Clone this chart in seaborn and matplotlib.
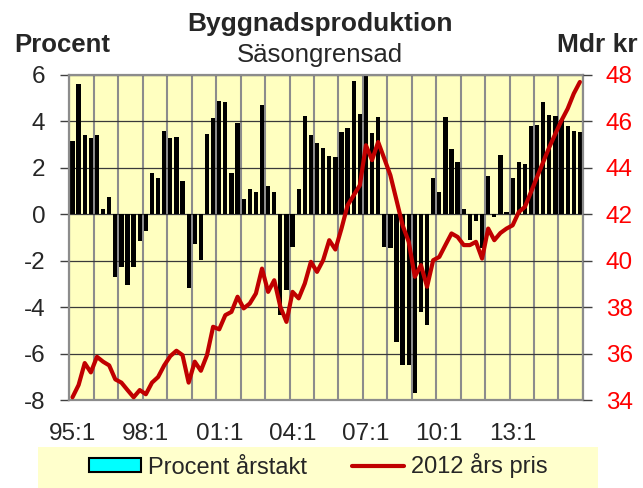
import numpy as np
import pandas as pd
import matplotlib
matplotlib.use("Agg")
import matplotlib.pyplot as plt
import seaborn as sns
from matplotlib.patches import Patch, Rectangle
from matplotlib.lines import Line2D
from matplotlib.ticker import FixedLocator

# ---------------- data ----------------
years = list(range(1995, 2016))
quarters = [f"{y % 100:02d}:{q}" for y in years for q in range(1, 5)]

procent_arstakt = [
    3.15, 5.58, 3.38, 3.26, 3.42, 0.20, 0.74, -2.69, -2.29, -3.06, -2.29, -1.16,
    -0.72, 1.77, 1.56, 3.59, 3.29, 3.33, 1.44, -3.18, -1.29, -1.95, 3.46, 4.12,
    4.88, 4.82, 1.77, 3.93, 0.63, 1.09, 0.94, 4.71, 1.22, 0.94, -4.35, -3.26,
    -1.43, 1.10, 4.22, 3.38, 3.06, 2.85, 2.49, 2.45, 3.52, 3.72, 5.72, 4.31,
    5.97, 3.49, 4.19, -1.43, -1.47, -5.48, -6.48, -6.48, -7.67, -4.22, -4.76, 1.57,
    0.93, 4.16, 2.79, 2.25, 0.21, -1.12, -0.30, -1.47, 1.65, -0.14, 2.55, 0.10,
    1.57, 2.25, 2.17, 3.79, 3.81, 4.84, 4.28, 4.21, 4.03, 3.78, 3.58, 3.53,
]

mdr_kr_2012 = [
    34.13, 34.66, 35.60, 35.20, 35.87, 35.66, 35.50, 34.90, 34.76, 34.44, 34.13, 34.44,
    34.26, 34.76, 35.00, 35.50, 35.90, 36.13, 35.94, 34.76, 35.66, 35.27, 35.94, 37.16,
    37.05, 37.66, 37.80, 38.45, 37.95, 38.16, 38.59, 39.66, 38.66, 39.16, 38.02, 37.37,
    38.66, 38.38, 39.02, 39.95, 39.52, 40.02, 40.88, 40.48, 41.38, 42.38, 42.81, 43.24,
    44.96, 44.32, 45.10, 44.39, 43.67, 42.60, 41.52, 40.81, 39.31, 39.81, 38.88, 40.02,
    40.16, 40.67, 41.17, 41.02, 40.67, 40.67, 40.81, 40.09, 41.38, 40.88, 41.19, 41.38,
    41.52, 42.09, 42.31, 42.95, 43.60, 44.24, 44.88, 45.46, 46.03, 46.53, 47.18, 47.68,
]

tick_labels = ["95:1", "98:1", "01:1", "04:1", "07:1", "10:1", "13:1"]
left_ticks = [-8, -6, -4, -2, 0, 2, 4, 6]
right_ticks = [34, 36, 38, 40, 42, 44, 46, 48]

title = "Byggnadsproduktion"
subtitle = "Säsongrensad"
left_label = "Procent"
right_label = "Mdr kr"
legend_bar = "Procent årstakt"
legend_line = "2012 års pris"

# ---------------- style ----------------
sns.set_theme(style="white")
plt.rcParams["font.family"] = ["Liberation Sans", "DejaVu Sans"]

df = pd.DataFrame({
    "idx": np.arange(len(quarters)),
    "kvartal": quarters,
    "procent": procent_arstakt,
    "mdr": mdr_kr_2012,
})

fig = plt.figure(figsize=(6.43, 4.88), dpi=100)
fig.patch.set_facecolor("white")
ax = fig.add_axes([0.108, 0.1797, 0.7986, 0.6676])
ax.set_facecolor("#FFFFC0")

sns.barplot(data=df, x="idx", y="procent", native_scale=True, color="black",
            saturation=1, width=0.7, linewidth=0, ax=ax, zorder=2)

ax.set_xlim(-0.5, len(quarters) - 0.5)
ax.set_ylim(-8, 6)
ax.set_yticks(left_ticks)
ax.set_yticklabels([str(t) for t in left_ticks], fontsize=17.5)
ax.set_xticks(np.arange(0, len(quarters), 12))
ax.set_xticklabels(tick_labels, fontsize=17.5)
ax.xaxis.set_minor_locator(FixedLocator(np.arange(-0.5, len(quarters), 4)))
ax.set_xlabel("")
ax.set_ylabel("")
ax.set_axisbelow(True)
ax.yaxis.grid(True, color="#3a3a3a", linewidth=0.9)
ax.xaxis.grid(True, which="minor", color="#8c8c8c", linewidth=1.5)
ax.xaxis.grid(False, which="major")
ax.tick_params(axis="x", which="both", length=0, pad=16)
ax.tick_params(axis="y", length=6.5, width=1, color="#404040", pad=11, left=True)
for s in ax.spines.values():
    s.set_color("#8c8c8c")
    s.set_linewidth(1.6)

ax2 = ax.twinx()
sns.lineplot(data=df, x="idx", y="mdr", color="#C00000", linewidth=3, ax=ax2)
ax2.set_ylim(34, 48)
ax2.set_yticks(right_ticks)
ax2.set_yticklabels([str(t) for t in right_ticks], fontsize=17.5, color="#FF0000")
ax2.set_ylabel("")
ax2.set_xlabel("")
ax2.tick_params(axis="y", length=6.5, width=1, color="#404040", pad=10, right=True)
ax2.grid(False)
for s in ax2.spines.values():
    s.set_visible(False)
ax2.set_xlim(-0.5, len(quarters) - 0.5)

# titles
fig.text(0.4977, 1 - 31 / 488, title, ha="center", va="baseline",
         fontsize=19, fontweight="bold")
fig.text(0.4977, 1 - 62 / 488, subtitle, ha="center", va="baseline", fontsize=18.5)
fig.text(62.5 / 643, 1 - 51.7 / 488, left_label, ha="center", va="baseline",
         fontsize=18.5, fontweight="bold")
fig.text(597 / 643, 1 - 51.7 / 488, right_label, ha="center", va="baseline",
         fontsize=19, fontweight="bold")

# legend
fig.patches.append(Rectangle((38 / 643, 0), 560 / 643, 41 / 488,
                             transform=fig.transFigure, facecolor="#FFFFCC",
                             edgecolor="none", zorder=0))
handles = [Patch(facecolor="#00FFFF", edgecolor="black", linewidth=1.5),
           Line2D([0], [0], color="#C00000", linewidth=3)]
fig.legend(handles, [legend_bar, legend_line], loc="center",
           bbox_to_anchor=(318.5 / 643, 1 - 466 / 488), ncol=2, frameon=False,
           fontsize=17, handlelength=2.2, handleheight=0.55, handletextpad=0.3,
           columnspacing=1.9, borderpad=0)

fig.savefig("out.png", dpi=100, facecolor="white")
